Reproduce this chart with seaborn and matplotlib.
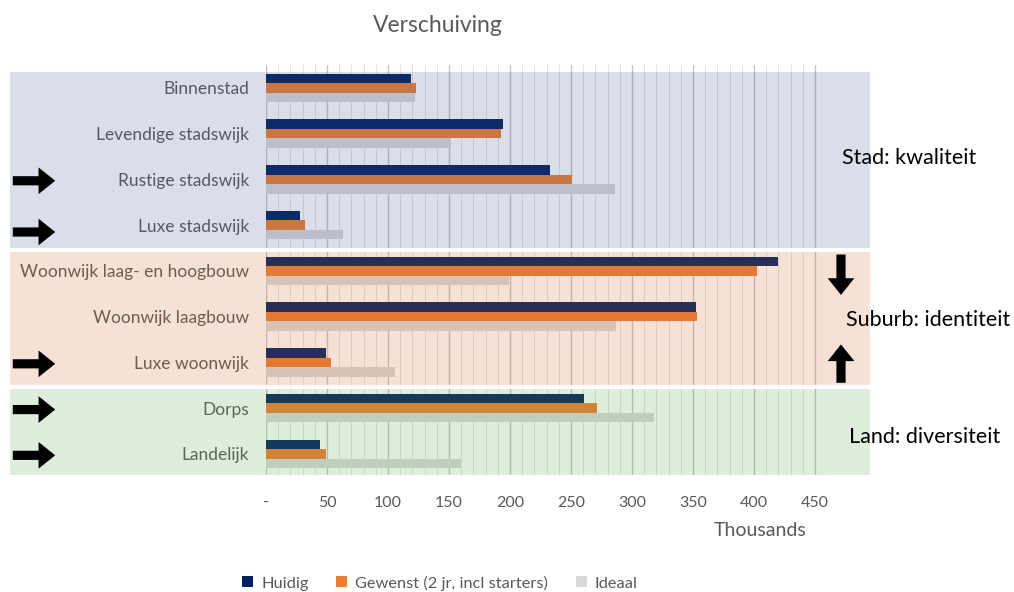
import matplotlib
matplotlib.use("Agg")
import matplotlib.pyplot as plt
import matplotlib.transforms as mtransforms
from matplotlib.patches import Rectangle, Patch
import numpy as np
import pandas as pd
import seaborn as sns

categories = ["Binnenstad", "Levendige stadswijk", "Rustige stadswijk", "Luxe stadswijk",
              "Woonwijk laag- en hoogbouw", "Woonwijk laagbouw", "Luxe woonwijk",
              "Dorps", "Landelijk"]
series = ["Huidig", "Gewenst (2 jr, incl starters)", "Ideaal"]
huidig = [119, 194, 233, 28, 420, 352, 49, 261, 44]
gewenst = [123, 193, 251, 32, 402, 353, 53, 271, 49]
ideaal = [122, 152, 286, 63, 199, 287, 106, 318, 160]
tick_values = [0, 50, 100, 150, 200, 250, 300, 350, 400, 450]
tick_labels = ["-", "50", "100", "150", "200", "250", "300", "350", "400", "450"]
bands = ["Stad: kwaliteit", "Suburb: identiteit", "Land: diversiteit"]
band_colors = ["#415A8C", "#CD692D", "#5FA555"]
right_arrow_rows = ["Rustige stadswijk", "Luxe stadswijk", "Luxe woonwijk", "Dorps", "Landelijk"]

df = pd.DataFrame({
    "cat": categories * 3,
    "value": huidig + gewenst + ideaal,
    "series": [series[0]] * 9 + [series[1]] * 9 + [series[2]] * 9,
})

sns.set_theme(style="white")
plt.rcParams["font.family"] = ["Lato", "DejaVu Sans"]
TXT = "#595959"

W, H = 1014, 592
fig = plt.figure(figsize=(W / 100, H / 100), dpi=100)
ax_l, ax_r, ax_t, ax_b = 266, 870, 65, 475
ax = fig.add_axes([ax_l / W, 1 - ax_b / H, (ax_r - ax_l) / W, (ax_b - ax_t) / H])

palette = ["#002060", "#ED7D31", "#D9D9D9"]
sns.barplot(data=df, y="cat", x="value", hue="series", palette=palette, orient="h",
            width=0.62, saturation=1, ax=ax, legend=False, zorder=2, linewidth=0)

ax.set_xlim(0, 495)
ax.set_ylim(8.46, -0.50)

# gridlines (only up to 450)
for v in np.arange(10, 451, 10):
    if v % 50 != 0:
        ax.axvline(v, color="#E3E3E3", lw=0.7, zorder=1)
for v in tick_values:
    ax.axvline(v, color="#C4C4C4", lw=1.0, zorder=1)

ax.set_xticks(tick_values)
ax.set_xticklabels(tick_labels, color=TXT, fontsize=11.5)
ax.tick_params(axis="x", length=0, pad=15)
ax.tick_params(axis="y", length=0, pad=12, labelsize=12.5, labelcolor=TXT)
ax.set_xlabel("")
ax.set_ylabel("")
for s in ax.spines.values():
    s.set_visible(False)

trans = mtransforms.blended_transform_factory(ax.transAxes, ax.transData)
left_ax = (10 - ax_l) / (ax_r - ax_l)
edges = [-0.35, 3.54, 6.53, 8.46]
for i in range(3):
    y0, y1 = edges[i], edges[i + 1]
    ax.add_patch(Rectangle((left_ax, y0), 1 - left_ax, y1 - y0, transform=trans,
                           facecolor=band_colors[i], alpha=0.2, edgecolor="none",
                           zorder=3, clip_on=False))
for e in edges[1:3]:
    ax.plot([left_ax, 1], [e, e], transform=trans, color="white", lw=3, zorder=4, clip_on=False)

# band labels on the right
label_px = [842, 846, 849]
label_py = [158, 320, 437]
for i, name in enumerate(bands):
    ax.text((label_px[i] - ax_l) / (ax_r - ax_l), (label_py[i] - 88) / 45.8, name,
            transform=trans, fontsize=15.5, color="black",
            ha="left", va="center", zorder=6, clip_on=False)

# right-pointing arrows at left
arrow_kw = dict(arrowstyle="simple,head_width=1.6,head_length=1.0,tail_width=0.55",
                color="black", lw=0)
ax_x0 = (10 - ax_l) / (ax_r - ax_l)
ax_x1 = (58 - ax_l) / (ax_r - ax_l)
for row in right_arrow_rows:
    yi = categories.index(row)
    off = 0.15 if row == "Luxe stadswijk" else 0.03
    ax.annotate("", xy=(ax_x1, yi + off), xytext=(ax_x0, yi + off),
                xycoords=trans, textcoords=trans, arrowprops=arrow_kw, zorder=7,
                annotation_clip=False)

# vertical arrows in suburb band
vx = (841 - ax_l) / (ax_r - ax_l)
ax.annotate("", xy=(vx, (298 - 88) / 45.8), xytext=(vx, (252 - 88) / 45.8),
            xycoords=trans, textcoords=trans, arrowprops=arrow_kw, annotation_clip=False)
ax.annotate("", xy=(vx, (342 - 88) / 45.8), xytext=(vx, (386 - 88) / 45.8),
            xycoords=trans, textcoords=trans, arrowprops=arrow_kw, annotation_clip=False)

fig.text(438 / W, 1 - 25 / H, "Verschuiving", ha="center", va="center", fontsize=16.5, color=TXT)
fig.text(760 / W, 1 - 530 / H, "Thousands", ha="center", va="center", fontsize=14, color=TXT)

# legend
handles = [Patch(facecolor=c, edgecolor="none") for c in palette]
fig.legend(handles, series, loc="center", bbox_to_anchor=(440 / W, 1 - 583 / H), ncol=3,
           frameon=False, fontsize=11.8, labelcolor=TXT, handlelength=0.65, handleheight=0.65,
           handletextpad=0.5, columnspacing=1.7)

fig.savefig("out.png", dpi=100)
